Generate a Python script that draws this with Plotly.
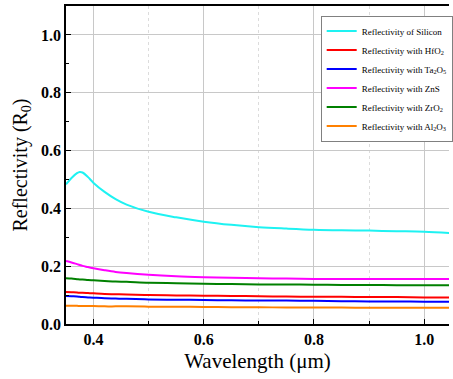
import plotly.graph_objects as go

wavelength = [0.35, 0.36, 0.37, 0.375, 0.38, 0.39, 0.40, 0.42, 0.44, 0.46, 0.50, 0.55,
              0.60, 0.65, 0.70, 0.75, 0.80, 0.85, 0.90, 0.95, 1.00, 1.05]

r_silicon = [0.483, 0.505, 0.522, 0.526, 0.524, 0.508, 0.488, 0.457, 0.432, 0.413, 0.388, 0.369,
             0.354, 0.343, 0.335, 0.330, 0.326, 0.324, 0.323, 0.321, 0.319, 0.314]
r_hfo2 = [0.111, 0.110, 0.109, 0.108, 0.108, 0.107, 0.106, 0.104, 0.103, 0.102, 0.100, 0.099,
          0.098, 0.097, 0.096, 0.095, 0.094, 0.094, 0.093, 0.093, 0.092, 0.092]
r_ta2o5 = [0.097, 0.096, 0.095, 0.094, 0.093, 0.092, 0.091, 0.089, 0.088, 0.087, 0.085, 0.084,
           0.083, 0.082, 0.081, 0.081, 0.080, 0.079, 0.078, 0.078, 0.077, 0.077]
r_zns = [0.218, 0.213, 0.207, 0.204, 0.201, 0.197, 0.193, 0.186, 0.180, 0.176, 0.170, 0.165,
         0.162, 0.160, 0.158, 0.157, 0.156, 0.156, 0.156, 0.156, 0.156, 0.156]
r_zro2 = [0.158, 0.157, 0.155, 0.154, 0.154, 0.152, 0.151, 0.149, 0.147, 0.146, 0.143, 0.141,
          0.139, 0.138, 0.137, 0.137, 0.136, 0.135, 0.135, 0.134, 0.134, 0.134]
r_al2o3 = [0.063, 0.063, 0.063, 0.062, 0.062, 0.062, 0.062, 0.061, 0.061, 0.061, 0.060, 0.060,
           0.059, 0.058, 0.058, 0.057, 0.057, 0.057, 0.056, 0.056, 0.056, 0.056]

names = ["Reflectivity of Silicon", "Reflectivity with HfO<sub>2</sub>",
         "Reflectivity with Ta<sub>2</sub>O<sub>5</sub>", "Reflectivity with ZnS",
         "Reflectivity with ZrO<sub>2</sub>", "Reflectivity with Al<sub>2</sub>O<sub>3</sub>"]
series = [r_silicon, r_hfo2, r_ta2o5, r_zns, r_zro2, r_al2o3]
colors = ["#1EF2F2", "#FF0000", "#0000FF", "#FF00FF", "#008000", "#FF8000"]

fig = go.Figure()
for n, s, c in zip(names, series, colors):
    fig.add_trace(go.Scatter(x=wavelength, y=s, name=n, mode="lines",
                             line=dict(color=c, width=2, shape="spline")))

serif = "Times New Roman"
fig.update_layout(
    width=453, height=379,
    margin=dict(l=66, r=0, t=6, b=55),
    plot_bgcolor="white", paper_bgcolor="white",
    font=dict(family=serif, color="black"),
    legend=dict(x=0.665, y=0.97, xanchor="left", yanchor="top",
                bordercolor="#808080", borderwidth=1, bgcolor="white",
                font=dict(family=serif, size=9, color="black"),
                tracegroupgap=0, itemwidth=30),
    showlegend=True,
)
fig.update_xaxes(
    range=[0.35, 1.045], tickvals=[0.4, 0.6, 0.8, 1.0], ticktext=["<b>0.4</b>", "<b>0.6</b>", "<b>0.8</b>", "<b>1.0</b>"],
    ticks="inside", ticklen=5, tickcolor="black",
    tickfont=dict(family=serif, size=16, color="black"),
    showline=True, linecolor="black", linewidth=1.5, mirror=True,
    showgrid=True, gridcolor="#c8c8c8", gridwidth=1,
    minor=dict(tickvals=[0.5, 0.7, 0.9], ticks="inside", ticklen=3, tickcolor="black",
               showgrid=True, gridcolor="#dcdcdc", griddash="dot"),
    title=dict(text="Wavelength (μm)", font=dict(family=serif, size=21, color="black"), standoff=6),
    zeroline=False,
)
fig.update_yaxes(
    range=[0, 1.1], tickvals=[0.0, 0.2, 0.4, 0.6, 0.8, 1.0],
    ticktext=["<b>0.0</b>", "<b>0.2</b>", "<b>0.4</b>", "<b>0.6</b>", "<b>0.8</b>", "<b>1.0</b>"],
    ticks="inside", ticklen=5, tickcolor="black",
    tickfont=dict(family=serif, size=16, color="black"),
    showline=True, linecolor="black", linewidth=1.5, mirror=False,
    showgrid=True, gridcolor="#c8c8c8", gridwidth=1,
    minor=dict(tickvals=[0.1, 0.3, 0.5, 0.7, 0.9], ticks="inside", ticklen=3, tickcolor="black",
               showgrid=False),
    title=dict(text="Reflectivity (R<sub>0</sub>)", font=dict(family=serif, size=20, color="black"), standoff=8),
    zeroline=False,
)
fig.write_html("out.html")
